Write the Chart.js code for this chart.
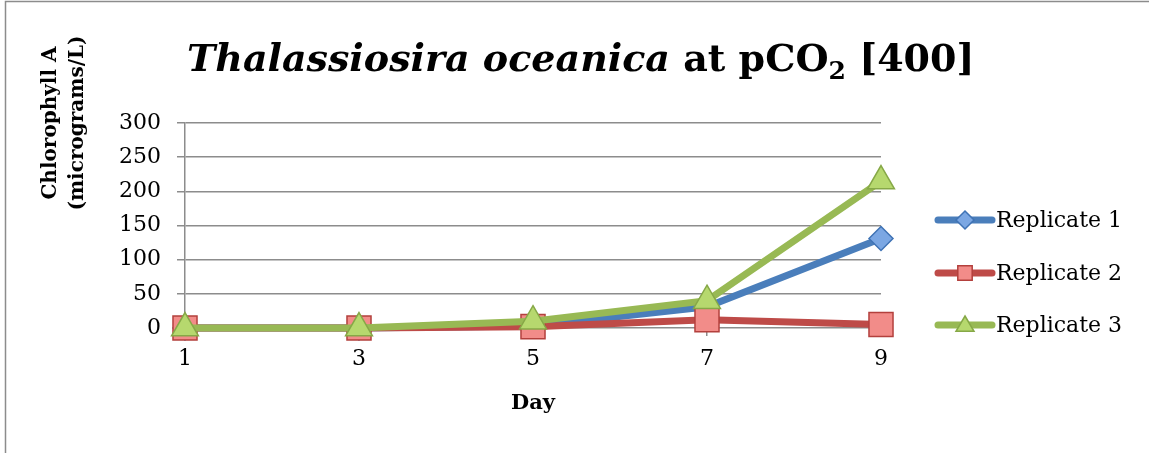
<!DOCTYPE html>
<html>
<head>
<meta charset="utf-8">
<script src="https://cdn.jsdelivr.net/npm/chart.js@4"></script>
<style>
    html, body { margin: 0; padding: 0; background: #fff; }
    #wrap { position: relative; width: 1149px; height: 453px; }
    #title {
        position: absolute; top: 35px; text-align: left;
        font-family: "DejaVu Serif", serif; font-weight: bold;
        font-size: 38px; color: #000; white-space: nowrap;
    }
    #title i { font-style: italic; }
    #title sub { font-size: 25px; vertical-align: -8px; line-height: 0; }
</style>
</head>
<body>
<div id="wrap">
    <canvas id="chart" width="1149" height="453"></canvas>
    <div id="title" style="left:187px"><i>Thalassiosira oceanica</i> at pCO<sub>2</sub> [400]</div>
</div>
<script>

/* ---------------- DATA ---------------- */

const days = ['1', '3', '5', '7', '9'];
const replicate1 = [0, 0, 3, 31, 131];
const replicate2 = [0, 0, 2, 12, 5];
const replicate3 = [0, 0, 10, 40, 215];
const yTicks = [0, 50, 100, 150, 200, 250, 300];

const FONT = "'DejaVu Serif', serif";

/* ---------------- PLUGINS ---------------- */

const frame = {
    id: 'frame',
    beforeDraw(chart) {
        const ctx = chart.ctx;
        ctx.save();
        ctx.strokeStyle = '#8c8c8c';
        ctx.lineWidth = 1.5;
        ctx.strokeRect(5.5, 1.5, 3000, 3000);
        ctx.restore();
    }
};

const axisTitles = {
    id: 'axisTitles',
    afterDraw(chart) {
        const ctx = chart.ctx;
        ctx.save();
        ctx.fillStyle = '#000';
        ctx.font = "bold 20px " + FONT;
        ctx.textAlign = 'center';
        ctx.textBaseline = 'middle';

        ctx.translate(64, 123);
        ctx.rotate(-Math.PI / 2);
        ctx.fillText('Chlorophyll A', 0, -13);
        ctx.fillText('(micrograms/L)', 0, 14);
        ctx.restore();

        ctx.save();
        ctx.fillStyle = '#000';
        ctx.font = "bold 21px " + FONT;
        ctx.textAlign = 'center';
        ctx.textBaseline = 'middle';
        ctx.fillText('Day', 533, 404);
        ctx.restore();
    }
};

function drawMarker(ctx, style, x, y, r, fill, stroke) {
    ctx.beginPath();
    if (style === 'rectRot') {
        ctx.moveTo(x, y - r); ctx.lineTo(x + r, y); ctx.lineTo(x, y + r); ctx.lineTo(x - r, y);
    } else if (style === 'rect') {
        ctx.rect(x - r * 0.8, y - r * 0.8, r * 1.6, r * 1.6);
    } else {
        ctx.moveTo(x, y - r); ctx.lineTo(x + r, y + r * 0.7); ctx.lineTo(x - r, y + r * 0.7);
    }
    ctx.closePath();
    ctx.fillStyle = fill;
    ctx.fill();
    ctx.strokeStyle = stroke;
    ctx.lineWidth = 1.5;
    ctx.stroke();
}

const sideLegend = {
    id: 'sideLegend',
    afterDraw(chart) {
        const ctx = chart.ctx;
        const rows = [220, 273, 325];
        chart.data.datasets.forEach((ds, i) => {
            const y = rows[i];
            ctx.save();
            ctx.strokeStyle = ds.borderColor;
            ctx.lineWidth = 7;
            ctx.lineCap = 'round';
            ctx.beginPath();
            ctx.moveTo(938, y);
            ctx.lineTo(992, y);
            ctx.stroke();
            drawMarker(ctx, ds.pointStyle, 965, y, 9, ds.pointBackgroundColor, ds.pointBorderColor);
            ctx.fillStyle = '#000';
            ctx.font = "22px " + FONT;
            ctx.textAlign = 'left';
            ctx.textBaseline = 'middle';
            ctx.fillText(ds.label, 996, y + 1);
            ctx.restore();
        });
    }
};

/* ---------------- CHART ---------------- */

function series(label, data, line, fill, edge, style, radius, order) {
    return {
        label: label,
        data: data,
        borderColor: line,
        borderWidth: 7,
        pointStyle: style,
        pointRadius: radius,
        pointHoverRadius: radius,
        pointBackgroundColor: fill,
        pointBorderColor: edge,
        pointBorderWidth: 1.5,
        tension: 0,
        clip: false,
        order: order
    };
}

new Chart(document.getElementById('chart'), {
    type: 'line',
    data: {
        labels: days,
        datasets: [
            series('Replicate 1', replicate1, '#4a7ebb', '#7ba7e3', '#3f73b5', 'rectRot', 12, 3),
            series('Replicate 2', replicate2, '#be4b48', '#f28c89', '#b3403d', 'rect', 17, 2),
            series('Replicate 3', replicate3, '#98b954', '#b6d86e', '#86a847', 'triangle', 15.5, 1)
        ]
    },
    options: {
        responsive: false,
        animation: false,
        events: [],
        layout: { padding: { left: 0, right: 268, top: 123, bottom: 0 } },
        plugins: {
            legend: { display: false },
            tooltip: { enabled: false },
            title: { display: false }
        },
        scales: {
            x: {
                offset: false,
                afterFit: s => { s.height = 125; },
                border: { display: false },
                grid: { drawOnChartArea: false, color: '#8c8c8c', lineWidth: 1.5, tickLength: 8 },
                ticks: { color: '#000', font: { family: FONT, size: 22 }, padding: 10 }
            },
            y: {
                min: 0,
                max: 300,
                afterFit: s => { s.width = 185; },
                afterBuildTicks: s => { s.ticks = yTicks.map(v => ({ value: v })); },
                border: { color: '#8c8c8c', width: 1.5 },
                grid: { color: '#8c8c8c', lineWidth: 1.5, tickLength: 8 },
                ticks: { color: '#000', font: { family: FONT, size: 22 }, padding: 16 }
            }
        }
    },
    plugins: [frame, axisTitles, sideLegend]
});

</script>
</body>
</html>
